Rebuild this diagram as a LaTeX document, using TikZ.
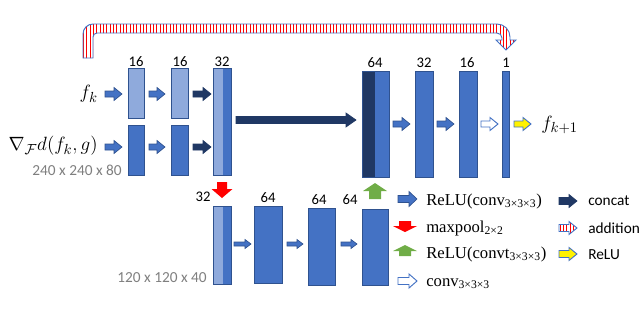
\documentclass[tikz,border=0pt]{standalone}
\usepackage{fontspec}
\usetikzlibrary{patterns.meta}
\newfontfamily\carl{Carlito}
\newfontfamily\lser{Liberation Serif}
\definecolor{lightb}{HTML}{8FAADC}
\definecolor{medb}{HTML}{4472C4}
\definecolor{navy}{HTML}{203864}
\definecolor{bordc}{HTML}{2F528F}
\definecolor{grn}{HTML}{70AD47}
\definecolor{gry}{HTML}{7F7F7F}
\tikzset{
  bx/.style 2 args={minimum width=#1*0.75pt, minimum height=#2*0.75pt, inner sep=0pt, draw=bordc, line width=0.7pt},
  leftpart/.style 2 args={path picture={\fill[#1] (path picture bounding box.north west) rectangle ([xshift=#2]path picture bounding box.south west);}},
  num/.style={font=\carl\fontsize{11}{13}\selectfont, inner sep=0pt},
  grytxt/.style={font=\carl\fontsize{11.5}{13}\selectfont, text=gry, inner sep=0pt},
  mth/.style={font=\fontsize{15}{18}\selectfont, inner sep=0pt},
  legs/.style={font=\lser\fontsize{12.5}{15}\selectfont, inner sep=0pt, anchor=base west},
  legc/.style={font=\carl\fontsize{11.5}{14}\selectfont, inner sep=0pt, anchor=base west},
  bluearr/.style={fill=medb, draw=bordc, line width=0.5pt},
  navyarr/.style={fill=navy, draw=navy, line width=0.5pt},
  whitearr/.style={fill=white, draw=medb, line width=0.7pt},
  yelarr/.style={fill=yellow, draw=medb, line width=0.7pt},
  redarr/.style={fill=red},
  grnarr/.style={fill=grn},
  stripes/.style={draw=medb, line width=0.7pt, preaction={fill=white}, pattern={Lines[angle=90,distance=2.5pt,line width=0.7pt]}, pattern color=red},
  pics/barrow/.style n args={4}{code={
    \path[pic actions] (0,-#2) -- ({#1-#4},-#2) -- ({#1-#4},-#3) -- (#1,0) -- ({#1-#4},#3) -- ({#1-#4},#2) -- (0,#2) -- cycle;
  }},
}
\begin{document}
\begin{tikzpicture}[x=0.75pt,y=-0.75pt]
\useasboundingbox (0,0) rectangle (640,311);

% addition skip band
\path[stripes] (83,58) -- (83,34) arc[start angle=180,end angle=270,radius=10]
  -- (497,24) arc[start angle=270,end angle=360,radius=13]
  -- (510,40) -- (516,40) -- (506,50) -- (496,40) -- (502,40) -- (502,38)
  arc[start angle=0,end angle=-90,radius=5]
  -- (97,33) arc[start angle=270,end angle=180,radius=4]
  -- (93,58) -- cycle;

% encoder boxes
\node[bx={16}{50},fill=lightb] (a1) at (136,93) {};
\node[bx={16}{50},fill=medb] (b1) at (136,150) {};
\node[bx={17}{50},fill=lightb] (a2) at (179.5,93) {};
\node[bx={17}{50},fill=medb] (b2) at (179.5,150) {};
\node[bx={18}{107},fill=medb,leftpart={lightb}{7.5pt}] (c1) at (222,121.5) {};
% decoder boxes
\node[bx={27}{106},fill=medb,leftpart={navy}{9.75pt}] (d64) at (375.5,124) {};
\node[bx={18}{106},fill=medb] (d32) at (424,124) {};
\node[bx={18}{106},fill=medb] (d16) at (468,124) {};
\node[bx={7}{106},fill=medb] (d1) at (505.5,124) {};
% lower level
\node[bx={18}{78},fill=medb,leftpart={lightb}{7.5pt}] (e32) at (222,245) {};
\node[bx={28}{77},fill=medb] (e64a) at (268,244.5) {};
\node[bx={27}{77},fill=medb] (e64b) at (321.5,246.5) {};
\node[bx={26}{76},fill=medb] (e64c) at (375,247) {};

% channel numbers
\node[num] (n1) at (136,62) {16};
\node[num] (n2) at (180,62) {16};
\node[num] (n3) at (222,62) {32};
\node[num] (n4) at (375,63) {64};
\node[num] (n5) at (424,63) {32};
\node[num] (n6) at (467,63) {16};
\node[num] (n7) at (506,63) {1};
\node[num] (n8) at (203,197) {32};
\node[num] (n9) at (268,198) {64};
\node[num] (n10) at (319,200) {64};
\node[num] (n11) at (350,200) {64};

% inputs / outputs
\node[mth,anchor=east] (fk) at (98,94) {$f_k$};
\node[mth,anchor=east] (grad) at (98,146) {$\nabla_{\mathcal{F}} d(f_k, g)$};
\node[mth,anchor=west] (fk1) at (541,125) {$f_{k+1}$};
\node[grytxt,anchor=east] (s1) at (122,170.5) {240 x 240 x 80};
\node[grytxt,anchor=east] (s2) at (207,278) {120 x 120 x 40};

% block arrows
\pic[bluearr] (ar1) at (105,94) {barrow={17}{3}{6.5}{8}};
\pic[bluearr] (ar2) at (149,94) {barrow={16}{3}{6.5}{8}};
\pic[bluearr] (ar3) at (105,147) {barrow={17}{3}{6.5}{8}};
\pic[bluearr] (ar4) at (149,147) {barrow={16}{3}{6.5}{8}};
\pic[navyarr] (ar5) at (193,94) {barrow={18}{3}{6.5}{8}};
\pic[navyarr] (ar6) at (193,147) {barrow={18}{3}{6.5}{8}};
\pic[navyarr] (ar7) at (236,120) {barrow={120}{3.5}{7}{10}};
\pic[bluearr] (ar8) at (393,124) {barrow={17}{3}{6.5}{8}};
\pic[bluearr] (ar9) at (437,124) {barrow={17}{3}{6.5}{8}};
\pic[whitearr] (ar10) at (481,124) {barrow={17}{3}{6.5}{8}};
\pic[yelarr] (ar11) at (514,124) {barrow={17}{3}{6.5}{8}};
\pic[bluearr] (ar12) at (234,244) {barrow={17}{2}{4.5}{6}};
\pic[bluearr] (ar13) at (287,244) {barrow={16}{2}{4.5}{6}};
\pic[bluearr] (ar14) at (341,244) {barrow={16}{2}{4.5}{6}};
\pic[redarr,rotate=-90] (ar15) at (222,182) {barrow={16}{5}{10.5}{9}};
\pic[grnarr,rotate=90] (ar16) at (375,199) {barrow={16}{6}{12}{8}};

% legend
\pic[bluearr] (lg1) at (398,199) {barrow={19}{3.5}{7.5}{8}};
\pic[redarr,rotate=-90] (lg2) at (405,221) {barrow={11}{6}{12}{6}};
\pic[grnarr,rotate=90] (lg3) at (405,256) {barrow={11}{6}{12}{6}};
\pic[whitearr] (lg4) at (398,281) {barrow={19}{3.5}{7}{8}};
\pic[navyarr] (lg5) at (559,201) {barrow={18}{3.5}{6.5}{8}};
\pic[stripes] (lg6) at (559,228) {barrow={18}{3.5}{6.5}{8}};
\pic[yelarr] (lg7) at (559,254) {barrow={18}{3.5}{6.5}{8}};

\node[legs] (t1) at (426,205) {ReLU(conv\textsubscript{3×3×3})};
\node[legs] (t2) at (426,232) {maxpool\textsubscript{2×2}};
\node[legs] (t3) at (426,258) {ReLU(convt\textsubscript{3×3×3})};
\node[legs] (t4) at (426,286) {conv\textsubscript{3×3×3}};
\node[legc] (t5) at (588,205) {concat};
\node[legc] (t6) at (588,233) {addition};
\node[legc] (t7) at (588,259) {ReLU};
\end{tikzpicture}
\end{document}
